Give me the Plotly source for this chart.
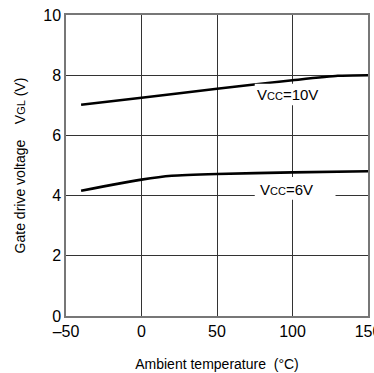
import plotly.graph_objects as go

temp_10v = [-40, 0, 50, 100, 130, 150]
vgl_10v = [7.02, 7.25, 7.55, 7.83, 7.98, 8.0]
temp_6v = [-40, 0, 20, 50, 100, 150]
vgl_6v = [4.16, 4.53, 4.66, 4.72, 4.77, 4.81]

x_ticks = [-50, 0, 50, 100, 150]
x_tick_text = ["\u201350", "0", "50", "100", "150"]
y_ticks = [0, 2, 4, 6, 8, 10]
y_tick_text = ["0", "2", "4", "6", "8", "10"]

font = "Liberation Sans, Arial, Helvetica, sans-serif"

fig = go.Figure()
fig.add_trace(go.Scatter(x=temp_10v, y=vgl_10v, mode="lines",
                         line=dict(color="black", width=2.6, shape="spline", smoothing=0.6),
                         showlegend=False, hoverinfo="skip"))
fig.add_trace(go.Scatter(x=temp_6v, y=vgl_6v, mode="lines",
                         line=dict(color="black", width=2.6, shape="spline", smoothing=0.6),
                         showlegend=False, hoverinfo="skip"))

# label boxes (white, covering gridlines)
fig.add_shape(type="rect", x0=75, x1=128.5, y0=3.86, y1=4.62, fillcolor="white",
              line=dict(width=0), layer="above")
fig.add_shape(type="rect", x0=75, x1=125, y0=7.0, y1=7.72, fillcolor="white",
              line=dict(width=0), layer="above")

sub = '<span style="font-size:11px">%s</span>'
fig.add_annotation(x=97, y=7.36, text="V" + sub % "CC" + "=10V", showarrow=False,
                   font=dict(family=font, size=15, color="black"))
fig.add_annotation(x=96, y=4.2, text="V" + sub % "CC" + "=6V", showarrow=False,
                   font=dict(family=font, size=15, color="black"))

fig.update_layout(
    width=374, height=373,
    margin=dict(l=66, r=6, t=15, b=57, autoexpand=False),
    paper_bgcolor="white", plot_bgcolor="white",
    font=dict(family=font, color="black"),
    xaxis=dict(range=[-50, 150], tickvals=x_ticks, ticktext=x_tick_text,
               showgrid=True, gridcolor="#333", gridwidth=1,
               showline=True, linecolor="#777", linewidth=1.5, mirror=True,
               zeroline=False, ticks="", tickfont=dict(size=16, family=font),
               ticklabeloverflow="allow", automargin=False,
               title=dict(text="\u00a0\u00a0\u00a0Ambient temperature\u00a0\u00a0(\u00b0C)", standoff=20,
                          font=dict(size=14, family=font))),
    yaxis=dict(range=[0, 10], tickvals=y_ticks, ticktext=y_tick_text,
               showgrid=True, gridcolor="#333", gridwidth=1,
               showline=True, linecolor="#777", linewidth=1.5, mirror=True,
               zeroline=False, ticks="", tickfont=dict(size=16, family=font),
               automargin=False,
               title=dict(text="Gate drive voltage\u00a0\u00a0\u00a0\u00a0V"
                               + '<span style="font-size:11px">GL</span>' + "\u00a0(V)",
                          standoff=14, font=dict(size=14, family=font))),
)

fig.write_html("out.html")
